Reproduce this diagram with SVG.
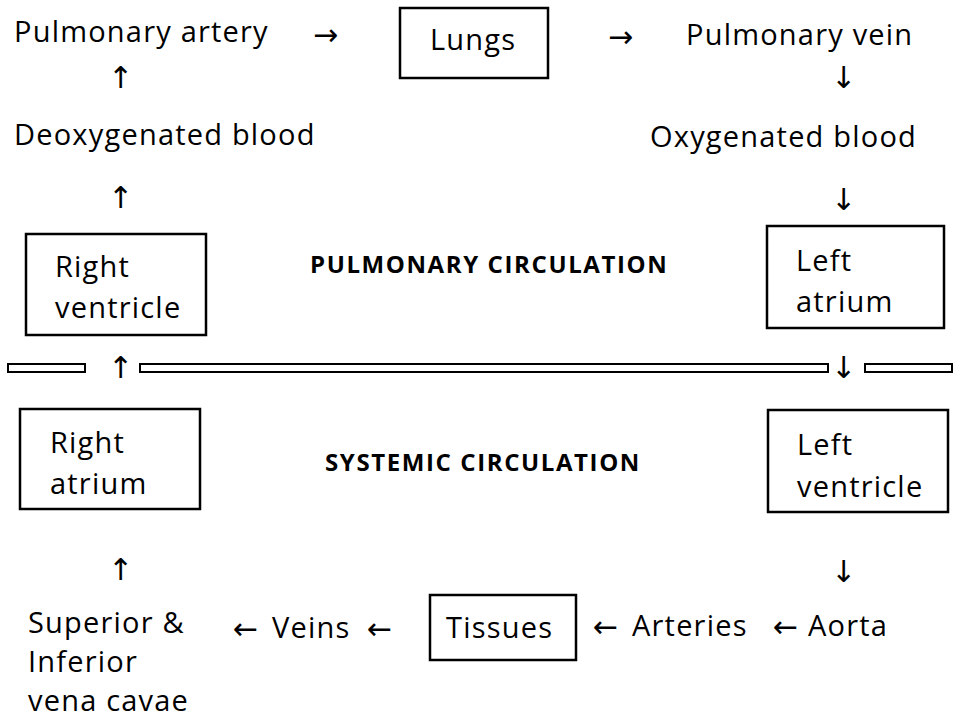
<svg xmlns="http://www.w3.org/2000/svg" width="960" height="720" viewBox="0 0 960 720">
<style>
text{font-family:"Open Sans","Liberation Sans",sans-serif;font-size:29px;letter-spacing:1.2px;fill:#000}
.b{font-weight:bold;font-size:24px;letter-spacing:1.6px}
.a{font-family:"DejaVu Sans",sans-serif;font-size:30px;letter-spacing:0}
.box{fill:#fff;stroke:#000;stroke-width:2.5}
.bar{fill:#fff;stroke:#000;stroke-width:2}
</style>
<rect width="960" height="720" fill="#fff"/>
<g id="n-pa"><text x="14" y="42">Pulmonary artery</text></g>
<g id="n-lungs"><rect class="box" x="400" y="8" width="148" height="70"/><text x="430" y="50">Lungs</text></g>
<g id="n-pv"><text x="686" y="45">Pulmonary vein</text></g>
<g id="n-deoxy"><text x="14" y="145">Deoxygenated blood</text></g>
<g id="n-oxy"><text x="650" y="147">Oxygenated blood</text></g>
<g id="n-rv"><rect class="box" x="26" y="234" width="180" height="101"/><text x="55" y="277">Right</text><text x="55" y="318">ventricle</text></g>
<g id="n-la"><rect class="box" x="767" y="226" width="177" height="102"/><text x="796" y="271">Left</text><text x="796" y="312">atrium</text></g>
<g id="n-ra"><rect class="box" x="20" y="409" width="180" height="100"/><text x="50" y="453">Right</text><text x="50" y="494">atrium</text></g>
<g id="n-lv"><rect class="box" x="768" y="410" width="180" height="102"/><text x="797" y="455">Left</text><text x="797" y="497">ventricle</text></g>
<g id="n-vc"><text x="28" y="633">Superior &amp;</text><text x="28" y="672">Inferior</text><text x="28" y="711">vena cavae</text></g>
<g id="n-veins"><text x="272" y="638">Veins</text></g>
<g id="n-tissues"><rect class="box" x="430" y="595" width="146" height="65"/><text x="446" y="638">Tissues</text></g>
<g id="n-arteries"><text x="632" y="636">Arteries</text></g>
<g id="n-aorta"><text x="808" y="636">Aorta</text></g>
<g id="labels"><text class="b" x="310" y="273">PULMONARY CIRCULATION</text><text class="b" x="325" y="471">SYSTEMIC CIRCULATION</text></g>
<g id="separator"><rect class="bar" x="8" y="364" width="77" height="8"/><rect class="bar" x="140" y="364" width="688" height="8"/><rect class="bar" x="865" y="364" width="87" height="8"/></g>
<g id="connectors">
<text class="a" x="313" y="45">→</text><text class="a" x="608" y="47">→</text>
<text class="a" x="108" y="88">↑</text><text class="a" x="108" y="208">↑</text><text class="a" x="108" y="378">↑</text><text class="a" x="108" y="580">↑</text>
<text class="a" x="831" y="88">↓</text><text class="a" x="831" y="210">↓</text><text class="a" x="831" y="378">↓</text><text class="a" x="831" y="582">↓</text>
<text class="a" x="233" y="639">←</text><text class="a" x="367" y="639">←</text><text class="a" x="593" y="637">←</text><text class="a" x="773" y="637">←</text>
</g>
</svg>
